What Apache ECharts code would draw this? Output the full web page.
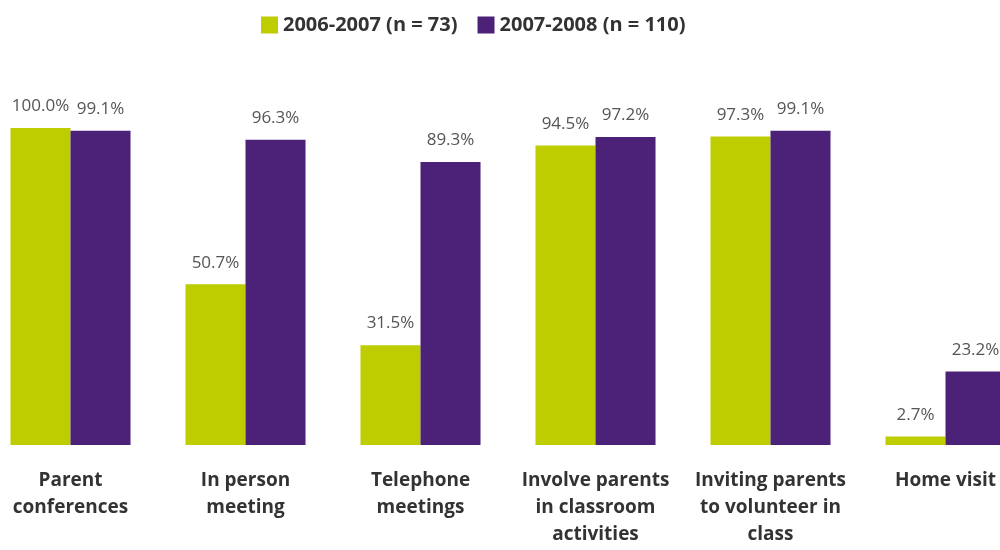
<!DOCTYPE html>
<html>
<head>
<meta charset="utf-8">
<script src="https://cdn.jsdelivr.net/npm/echarts@6/dist/echarts.min.js"></script>
<style>
  html, body { margin: 0; padding: 0; background: #fff; overflow: hidden; width: 1000px; height: 550px; }
  /* The plot runs slightly past both page edges, so the canvas is wider than the page */
  #chart { width: 1050px; height: 550px; margin-left: -17px; }
</style>
</head>
<body>
<div id="chart"></div>
<script>
// Parent involvement activities, share of classrooms by school year
const categories = [
  'Parent\nconferences',
  'In person\nmeeting',
  'Telephone\nmeetings',
  'Involve parents\nin classroom\nactivities',
  'Inviting parents\nto volunteer in\nclass',
  'Home visit'
];
const seriesNames = ['2006-2007 (n = 73)', '2007-2008 (n = 110)'];
const year2006 = [100.0, 50.7, 31.5, 94.5, 97.3, 2.7];
const year2007 = [99.1, 96.3, 89.3, 97.2, 99.1, 23.2];

const FONT = '"Open Sans", "Noto Sans", sans-serif';
const colors = ['#bdcd00', '#4b2277'];

const valueLabel = {
  show: true,
  position: 'top',
  distance: 13,
  color: '#555',
  fontFamily: FONT,
  fontSize: 17,
  formatter: p => p.value.toFixed(1) + '%'
};

const chart = echarts.init(document.getElementById('chart'));
chart.setOption({
  animation: false,
  color: colors,
  legend: {
    top: 10,
    left: 273,
    itemWidth: 17,
    itemHeight: 17,
    itemGap: 20,
    icon: 'rect',
    textStyle: { fontFamily: FONT, fontSize: 20, fontWeight: 'bold', color: '#333' },
    data: seriesNames
  },
  grid: { left: 0, top: 128, width: 1050, height: 317, containLabel: false },
  xAxis: {
    type: 'category',
    data: categories,
    axisLine: { show: false },
    axisTick: { show: false },
    axisLabel: {
      interval: 0,
      margin: 22,
      color: '#333',
      fontFamily: FONT,
      fontSize: 19,
      fontWeight: 'bold',
      lineHeight: 27
    }
  },
  yAxis: {
    type: 'value',
    min: 0,
    max: 100,
    show: false
  },
  series: [
    {
      name: seriesNames[0],
      type: 'bar',
      data: year2006,
      barGap: '0%',
      barCategoryGap: '31.4%',
      label: valueLabel
    },
    {
      name: seriesNames[1],
      type: 'bar',
      data: year2007,
      label: valueLabel
    }
  ]
});
</script>
</body>
</html>
